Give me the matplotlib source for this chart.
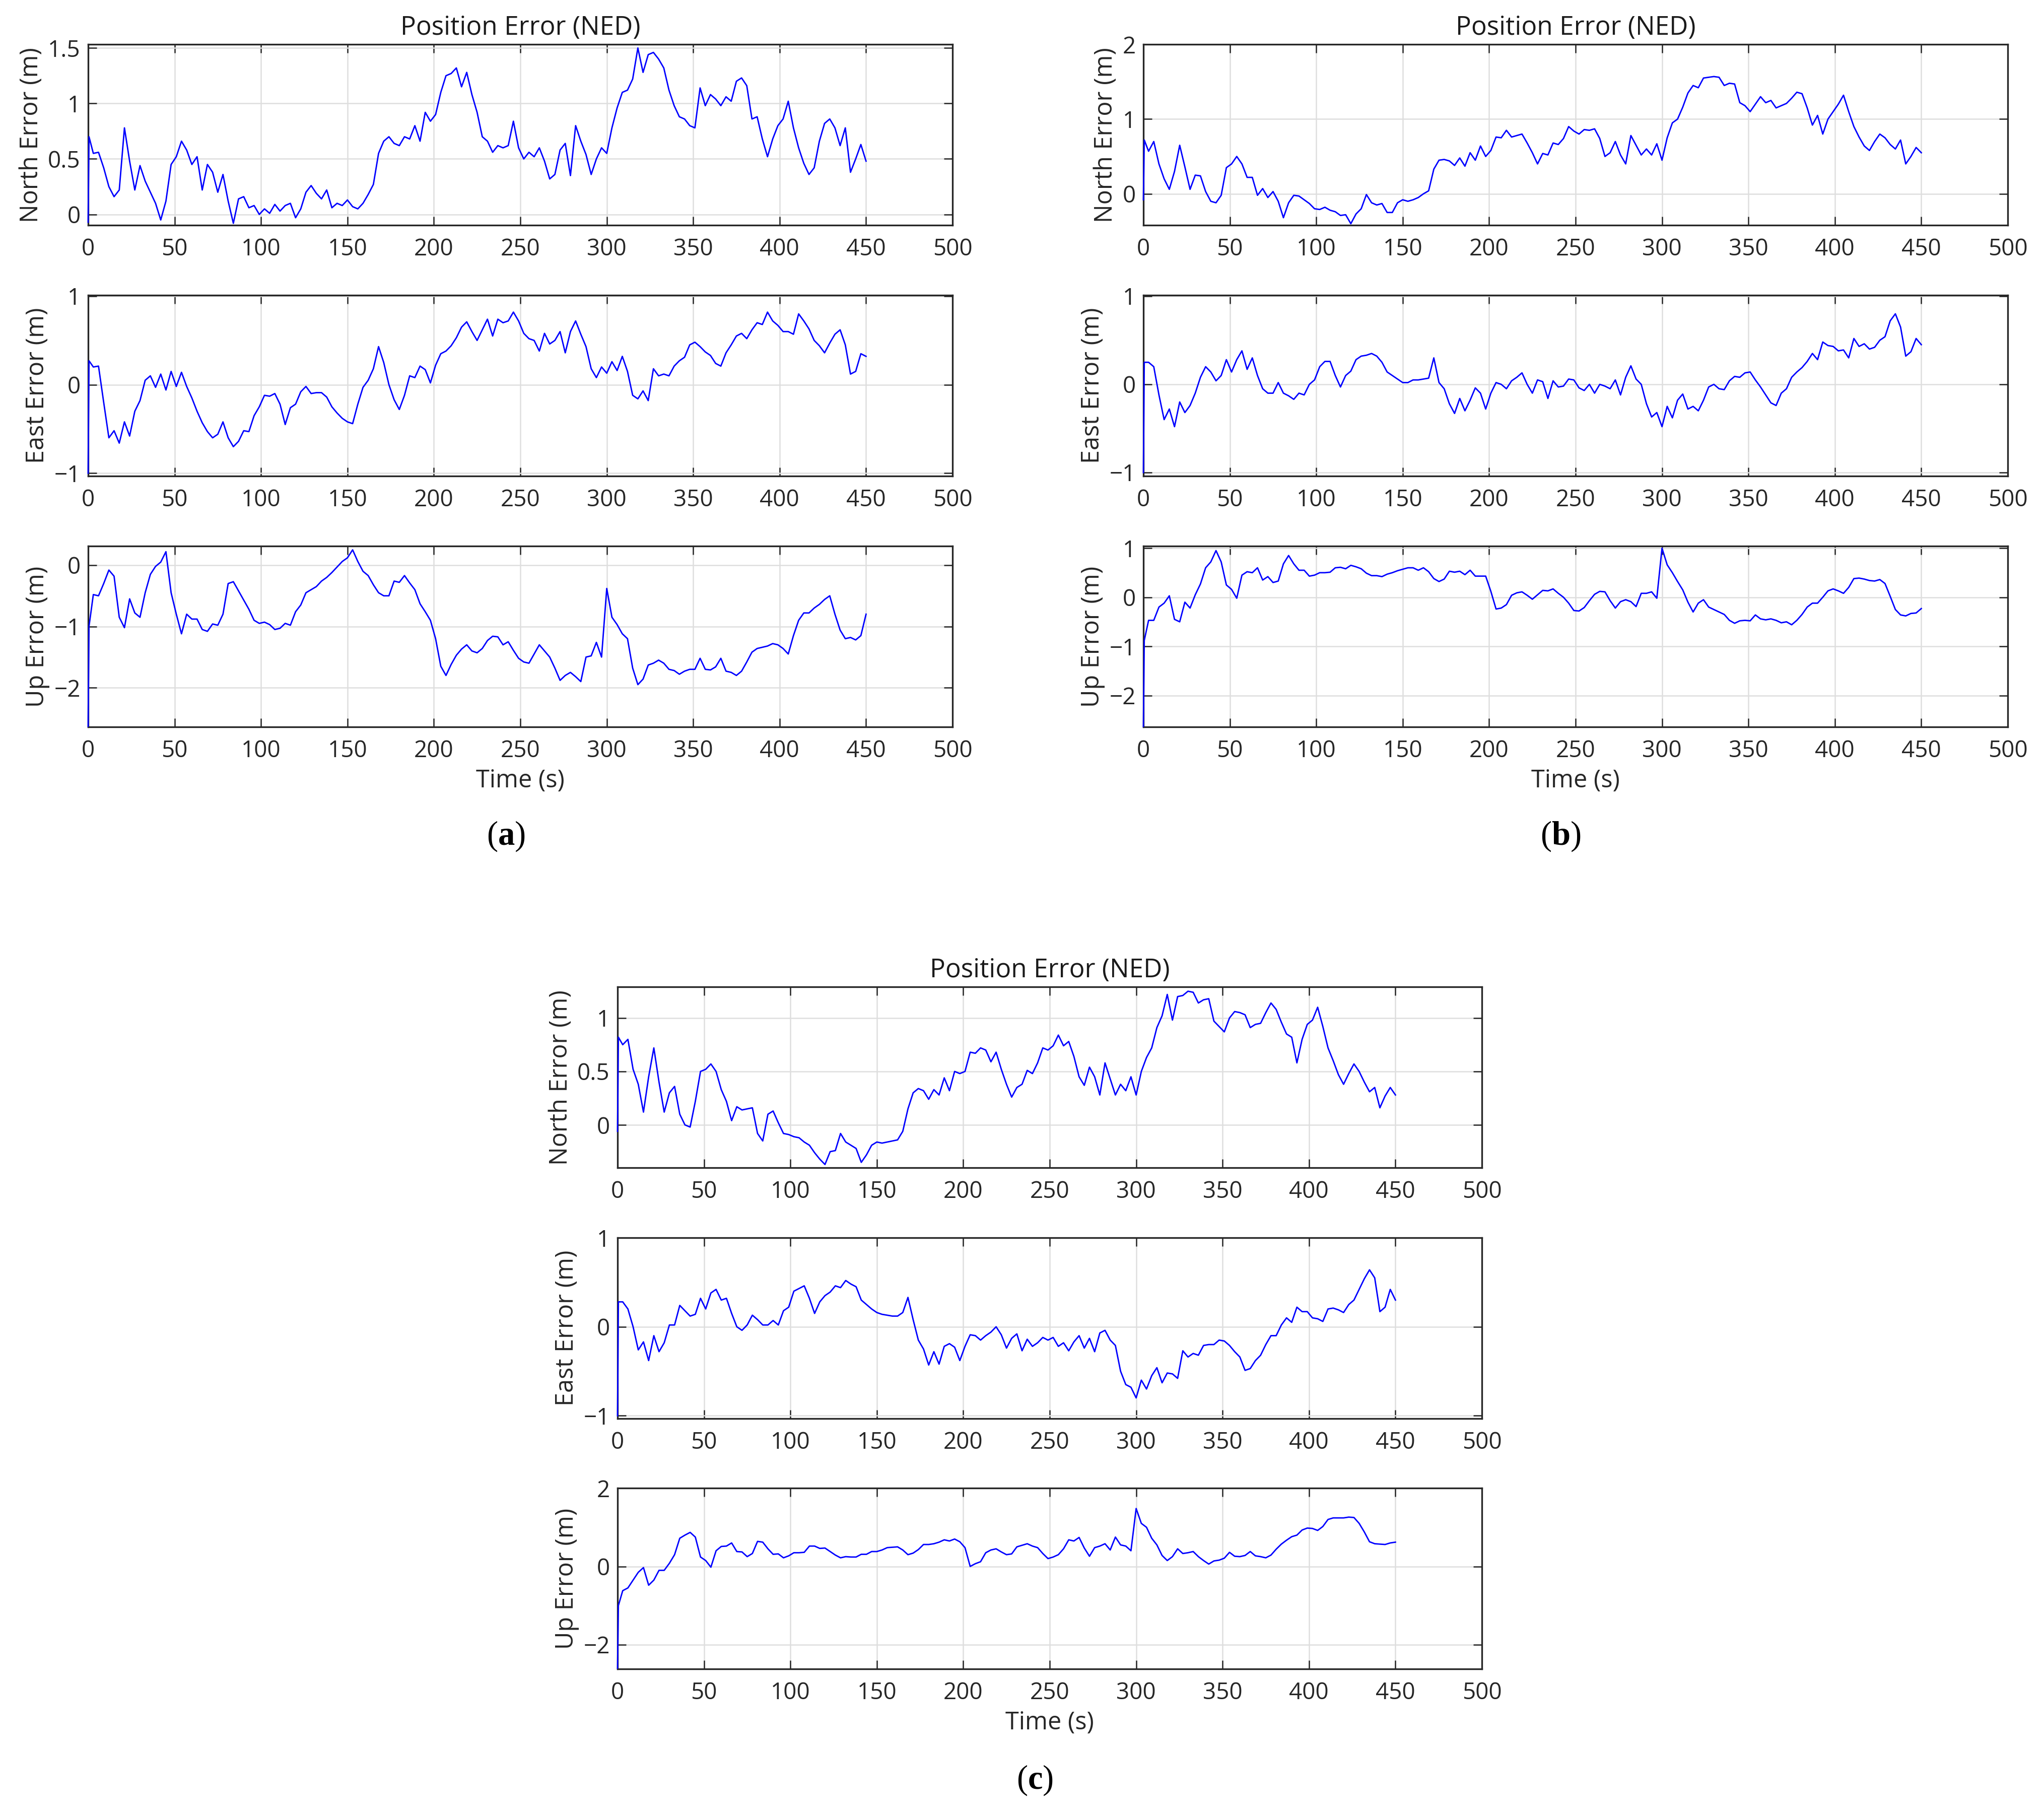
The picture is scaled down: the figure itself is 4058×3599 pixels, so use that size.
import numpy as np
import matplotlib
matplotlib.use("Agg")
import matplotlib.pyplot as plt
from matplotlib.ticker import FuncFormatter

# sample times (s): start of the transient, just after it, then every 3 s
t = np.r_[0.0, 0.5, np.arange(3, 451, 3)]

# ---------------- panel (a) ----------------
north_a = [
    -0.07, 0.70,
    0.55, 0.56, 0.42, 0.25, 0.16, 0.22, 0.78, 0.48, 0.22, 0.44,
    0.30, 0.20, 0.10, -0.05, 0.12, 0.45, 0.52, 0.66, 0.58, 0.45,
    0.52, 0.22, 0.45, 0.38, 0.20, 0.36, 0.12, -0.08, 0.14, 0.16,
    0.06, 0.08, 0.00, 0.05, 0.01, 0.09, 0.03, 0.08, 0.10, -0.03,
    0.05, 0.20, 0.26, 0.19, 0.14, 0.22, 0.06, 0.10, 0.08, 0.13,
    0.07, 0.05, 0.10, 0.18, 0.27, 0.55, 0.66, 0.70, 0.64, 0.62,
    0.70, 0.68, 0.80, 0.66, 0.92, 0.84, 0.90, 1.10, 1.25, 1.27,
    1.32, 1.15, 1.28, 1.08, 0.92, 0.70, 0.66, 0.56, 0.62, 0.60,
    0.62, 0.84, 0.60, 0.50, 0.56, 0.52, 0.60, 0.48, 0.32, 0.36,
    0.58, 0.64, 0.35, 0.80, 0.66, 0.54, 0.36, 0.50, 0.60, 0.55,
    0.78, 0.96, 1.10, 1.12, 1.22, 1.50, 1.28, 1.44, 1.46, 1.40,
    1.32, 1.12, 0.98, 0.88, 0.86, 0.80, 0.78, 1.14, 0.98, 1.08,
    1.04, 0.98, 1.06, 1.02, 1.20, 1.23, 1.16, 0.86, 0.88, 0.68,
    0.52, 0.68, 0.80, 0.86, 1.02, 0.78, 0.60, 0.46, 0.36, 0.42,
    0.66, 0.82, 0.86, 0.78, 0.62, 0.78, 0.38, 0.50, 0.63, 0.48,
]
east_a = [
    -1.00, 0.27,
    0.20, 0.21, -0.20, -0.60, -0.52, -0.66, -0.42, -0.58, -0.30, -0.18,
    0.05, 0.10, -0.03, 0.12, -0.06, 0.15, -0.02, 0.14, -0.02, -0.15,
    -0.30, -0.43, -0.53, -0.60, -0.56, -0.42, -0.60, -0.70, -0.64, -0.52,
    -0.53, -0.35, -0.25, -0.12, -0.13, -0.10, -0.22, -0.45, -0.26, -0.22,
    -0.08, -0.02, -0.10, -0.09, -0.09, -0.14, -0.25, -0.32, -0.38, -0.42,
    -0.44, -0.22, -0.03, 0.05, 0.18, 0.43, 0.25, 0.00, -0.17, -0.28,
    -0.12, 0.10, 0.08, 0.21, 0.17, 0.02, 0.22, 0.35, 0.38, 0.44,
    0.53, 0.65, 0.71, 0.60, 0.50, 0.62, 0.74, 0.55, 0.74, 0.70,
    0.72, 0.82, 0.72, 0.58, 0.52, 0.50, 0.38, 0.58, 0.46, 0.50,
    0.60, 0.36, 0.60, 0.72, 0.57, 0.43, 0.18, 0.08, 0.20, 0.13,
    0.26, 0.16, 0.32, 0.15, -0.12, -0.16, -0.07, -0.18, 0.18, 0.10,
    0.12, 0.10, 0.21, 0.27, 0.31, 0.45, 0.48, 0.43, 0.37, 0.33,
    0.24, 0.21, 0.36, 0.45, 0.55, 0.58, 0.52, 0.62, 0.70, 0.68,
    0.82, 0.72, 0.67, 0.60, 0.60, 0.57, 0.80, 0.72, 0.63, 0.50,
    0.44, 0.36, 0.47, 0.57, 0.62, 0.45, 0.12, 0.15, 0.35, 0.32,
]
up_a = [
    -2.63, -1.00,
    -0.48, -0.50, -0.30, -0.08, -0.18, -0.85, -1.02, -0.55, -0.78, -0.85,
    -0.45, -0.15, -0.02, 0.05, 0.22, -0.45, -0.80, -1.12, -0.80, -0.88,
    -0.88, -1.05, -1.08, -0.96, -0.98, -0.80, -0.30, -0.27, -0.42, -0.57,
    -0.72, -0.90, -0.95, -0.93, -0.97, -1.05, -1.03, -0.95, -0.98, -0.76,
    -0.65, -0.45, -0.40, -0.35, -0.26, -0.20, -0.12, -0.03, 0.06, 0.12,
    0.25, 0.06, -0.10, -0.17, -0.32, -0.45, -0.50, -0.50, -0.26, -0.28,
    -0.17, -0.29, -0.40, -0.63, -0.76, -0.90, -1.20, -1.65, -1.80, -1.62,
    -1.47, -1.37, -1.30, -1.40, -1.43, -1.36, -1.23, -1.16, -1.17, -1.30,
    -1.25, -1.39, -1.52, -1.58, -1.60, -1.45, -1.30, -1.40, -1.50, -1.68,
    -1.88, -1.80, -1.75, -1.82, -1.90, -1.50, -1.48, -1.26, -1.50, -0.38,
    -0.85, -0.97, -1.12, -1.20, -1.68, -1.95, -1.86, -1.63, -1.60, -1.55,
    -1.60, -1.70, -1.72, -1.78, -1.73, -1.70, -1.70, -1.52, -1.70, -1.71,
    -1.66, -1.52, -1.73, -1.75, -1.80, -1.73, -1.58, -1.42, -1.36, -1.34,
    -1.32, -1.28, -1.30, -1.36, -1.45, -1.15, -0.90, -0.78, -0.78, -0.70,
    -0.64, -0.56, -0.50, -0.80, -1.06, -1.20, -1.18, -1.22, -1.15, -0.80,
]

# ---------------- panel (b) ----------------
north_b = [
    -0.08, 0.72,
    0.57, 0.70, 0.40, 0.20, 0.06, 0.30, 0.65, 0.36, 0.06, 0.25,
    0.24, 0.03, -0.10, -0.12, -0.02, 0.35, 0.40, 0.50, 0.40, 0.22,
    0.22, -0.02, 0.07, -0.05, 0.03, -0.10, -0.32, -0.12, -0.02, -0.03,
    -0.08, -0.13, -0.20, -0.21, -0.18, -0.22, -0.24, -0.29, -0.28, -0.40,
    -0.27, -0.20, -0.01, -0.12, -0.15, -0.13, -0.25, -0.25, -0.12, -0.08,
    -0.10, -0.08, -0.05, 0.00, 0.04, 0.33, 0.45, 0.46, 0.44, 0.38,
    0.48, 0.37, 0.55, 0.45, 0.64, 0.50, 0.58, 0.76, 0.75, 0.85,
    0.76, 0.78, 0.80, 0.68, 0.55, 0.40, 0.54, 0.52, 0.68, 0.66,
    0.74, 0.90, 0.84, 0.80, 0.86, 0.85, 0.87, 0.74, 0.50, 0.55,
    0.70, 0.52, 0.40, 0.78, 0.65, 0.52, 0.60, 0.52, 0.67, 0.45,
    0.75, 0.95, 1.00, 1.16, 1.35, 1.45, 1.42, 1.55, 1.56, 1.57,
    1.56, 1.45, 1.48, 1.47, 1.22, 1.18, 1.10, 1.20, 1.30, 1.22,
    1.25, 1.15, 1.18, 1.21, 1.28, 1.36, 1.34, 1.15, 0.92, 1.05,
    0.80, 1.00, 1.10, 1.20, 1.32, 1.10, 0.90, 0.76, 0.64, 0.58,
    0.70, 0.80, 0.75, 0.66, 0.60, 0.72, 0.40, 0.50, 0.62, 0.55,
]
east_b = [
    -1.00, 0.25,
    0.25, 0.20, -0.12, -0.40, -0.28, -0.48, -0.20, -0.32, -0.24, -0.10,
    0.08, 0.20, 0.14, 0.04, 0.10, 0.28, 0.14, 0.28, 0.38, 0.17,
    0.30, 0.10, -0.05, -0.10, -0.10, 0.02, -0.10, -0.13, -0.17, -0.10,
    -0.12, 0.00, 0.05, 0.20, 0.26, 0.26, 0.10, -0.03, 0.10, 0.15,
    0.28, 0.32, 0.33, 0.35, 0.32, 0.25, 0.14, 0.10, 0.06, 0.02,
    0.02, 0.05, 0.05, 0.06, 0.07, 0.30, 0.02, -0.05, -0.22, -0.33,
    -0.16, -0.30, -0.18, -0.04, -0.10, -0.28, -0.10, 0.02, 0.00, -0.05,
    0.04, 0.08, 0.13, 0.00, -0.10, 0.05, 0.03, -0.16, 0.04, -0.03,
    -0.02, 0.06, 0.05, -0.04, -0.07, 0.00, -0.10, 0.00, -0.02, -0.05,
    0.05, -0.12, 0.08, 0.21, 0.06, 0.00, -0.22, -0.37, -0.32, -0.48,
    -0.25, -0.38, -0.18, -0.11, -0.28, -0.25, -0.30, -0.18, -0.03, 0.00,
    -0.05, -0.06, 0.04, 0.09, 0.08, 0.13, 0.14, 0.05, -0.03, -0.12,
    -0.21, -0.24, -0.10, -0.05, 0.08, 0.14, 0.19, 0.26, 0.35, 0.28,
    0.48, 0.44, 0.43, 0.38, 0.39, 0.30, 0.52, 0.43, 0.46, 0.40,
    0.42, 0.50, 0.54, 0.72, 0.80, 0.65, 0.32, 0.37, 0.52, 0.45,
]
up_b = [
    -2.63, -0.88,
    -0.47, -0.47, -0.20, -0.12, 0.03, -0.45, -0.50, -0.10, -0.22, 0.05,
    0.27, 0.60, 0.72, 0.95, 0.72, 0.25, 0.16, -0.02, 0.45, 0.52,
    0.50, 0.60, 0.35, 0.42, 0.30, 0.33, 0.68, 0.85, 0.68, 0.55,
    0.55, 0.43, 0.45, 0.50, 0.50, 0.51, 0.60, 0.61, 0.58, 0.65,
    0.62, 0.58, 0.49, 0.44, 0.44, 0.42, 0.47, 0.50, 0.54, 0.57,
    0.60, 0.60, 0.55, 0.60, 0.52, 0.38, 0.32, 0.37, 0.53, 0.51,
    0.53, 0.46, 0.55, 0.43, 0.43, 0.43, 0.12, -0.24, -0.22, -0.15,
    0.04, 0.09, 0.11, 0.04, -0.04, 0.05, 0.14, 0.13, 0.17, 0.08,
    0.00, -0.12, -0.27, -0.28, -0.21, -0.07, 0.06, 0.12, 0.11, -0.07,
    -0.22, -0.09, -0.05, -0.09, -0.19, 0.08, 0.08, 0.11, -0.02, 1.00,
    0.66, 0.50, 0.32, 0.15, -0.10, -0.30, -0.12, -0.05, -0.20, -0.25,
    -0.30, -0.35, -0.47, -0.53, -0.48, -0.47, -0.48, -0.36, -0.44, -0.46,
    -0.44, -0.47, -0.52, -0.50, -0.56, -0.47, -0.35, -0.20, -0.12, -0.12,
    0.00, 0.13, 0.17, 0.13, 0.08, 0.20, 0.38, 0.39, 0.37, 0.34,
    0.33, 0.36, 0.28, 0.02, -0.25, -0.36, -0.38, -0.33, -0.32, -0.23,
]

# ---------------- panel (c) ----------------
north_c = [
    -0.06, 0.82,
    0.75, 0.80, 0.52, 0.38, 0.12, 0.45, 0.72, 0.40, 0.12, 0.30,
    0.36, 0.10, 0.00, -0.02, 0.22, 0.50, 0.52, 0.57, 0.50, 0.33,
    0.22, 0.04, 0.17, 0.14, 0.15, 0.16, -0.08, -0.15, 0.10, 0.13,
    0.02, -0.08, -0.09, -0.11, -0.12, -0.16, -0.19, -0.26, -0.32, -0.37,
    -0.25, -0.24, -0.08, -0.16, -0.19, -0.22, -0.35, -0.28, -0.19, -0.16,
    -0.17, -0.16, -0.15, -0.14, -0.06, 0.15, 0.30, 0.34, 0.32, 0.24,
    0.33, 0.28, 0.44, 0.32, 0.50, 0.48, 0.50, 0.68, 0.67, 0.72,
    0.70, 0.59, 0.68, 0.52, 0.38, 0.26, 0.35, 0.38, 0.51, 0.48,
    0.58, 0.72, 0.70, 0.74, 0.84, 0.74, 0.78, 0.64, 0.45, 0.37,
    0.54, 0.45, 0.28, 0.58, 0.43, 0.28, 0.38, 0.32, 0.45, 0.28,
    0.50, 0.63, 0.72, 0.91, 1.02, 1.22, 0.98, 1.20, 1.21, 1.25,
    1.24, 1.14, 1.17, 1.18, 0.97, 0.92, 0.87, 1.00, 1.06, 1.05,
    1.03, 0.91, 0.94, 0.95, 1.05, 1.14, 1.08, 0.96, 0.85, 0.82,
    0.58, 0.80, 0.94, 0.98, 1.10, 0.92, 0.72, 0.60, 0.47, 0.38,
    0.48, 0.57, 0.50, 0.40, 0.31, 0.35, 0.16, 0.27, 0.35, 0.28,
]
east_c = [
    -1.00, 0.28,
    0.28, 0.20, 0.00, -0.26, -0.17, -0.38, -0.10, -0.28, -0.18, 0.02,
    0.02, 0.24, 0.18, 0.12, 0.14, 0.32, 0.20, 0.38, 0.42, 0.30,
    0.32, 0.15, 0.00, -0.04, 0.02, 0.13, 0.08, 0.02, 0.02, 0.07,
    0.02, 0.18, 0.22, 0.40, 0.43, 0.46, 0.32, 0.15, 0.28, 0.35,
    0.39, 0.46, 0.44, 0.52, 0.48, 0.45, 0.30, 0.25, 0.20, 0.16,
    0.14, 0.13, 0.12, 0.12, 0.16, 0.33, 0.08, -0.15, -0.25, -0.43,
    -0.28, -0.42, -0.22, -0.19, -0.23, -0.38, -0.22, -0.09, -0.10, -0.15,
    -0.10, -0.06, 0.00, -0.09, -0.24, -0.13, -0.08, -0.27, -0.14, -0.22,
    -0.18, -0.12, -0.15, -0.12, -0.22, -0.18, -0.27, -0.17, -0.10, -0.24,
    -0.13, -0.28, -0.07, -0.04, -0.15, -0.21, -0.50, -0.65, -0.68, -0.80,
    -0.60, -0.70, -0.55, -0.46, -0.63, -0.52, -0.53, -0.58, -0.27, -0.34,
    -0.30, -0.32, -0.21, -0.20, -0.20, -0.15, -0.16, -0.21, -0.28, -0.34,
    -0.49, -0.47, -0.38, -0.32, -0.20, -0.10, -0.10, 0.02, 0.10, 0.05,
    0.22, 0.17, 0.17, 0.10, 0.09, 0.06, 0.20, 0.21, 0.19, 0.16,
    0.25, 0.30, 0.42, 0.54, 0.64, 0.55, 0.17, 0.22, 0.42, 0.30,
]
up_c = [
    -2.60, -1.00,
    -0.62, -0.55, -0.35, -0.15, -0.03, -0.48, -0.35, -0.10, -0.10, 0.08,
    0.30, 0.72, 0.80, 0.87, 0.75, 0.24, 0.15, -0.02, 0.40, 0.51,
    0.52, 0.60, 0.38, 0.37, 0.25, 0.33, 0.64, 0.62, 0.45, 0.31,
    0.32, 0.22, 0.27, 0.35, 0.35, 0.36, 0.52, 0.52, 0.46, 0.47,
    0.38, 0.29, 0.22, 0.25, 0.24, 0.24, 0.31, 0.31, 0.38, 0.38,
    0.42, 0.48, 0.49, 0.50, 0.42, 0.30, 0.34, 0.43, 0.56, 0.56,
    0.58, 0.62, 0.68, 0.65, 0.70, 0.63, 0.48, 0.00, 0.07, 0.12,
    0.35, 0.42, 0.45, 0.37, 0.30, 0.32, 0.50, 0.54, 0.58, 0.52,
    0.48, 0.33, 0.20, 0.24, 0.30, 0.45, 0.68, 0.65, 0.74, 0.47,
    0.26, 0.48, 0.52, 0.58, 0.42, 0.75, 0.55, 0.52, 0.40, 1.48,
    1.10, 1.00, 0.72, 0.55, 0.28, 0.15, 0.25, 0.45, 0.33, 0.35,
    0.38, 0.25, 0.15, 0.06, 0.14, 0.16, 0.21, 0.36, 0.26, 0.25,
    0.28, 0.38, 0.27, 0.25, 0.22, 0.29, 0.44, 0.57, 0.67, 0.76,
    0.80, 0.93, 0.98, 0.97, 0.92, 1.02, 1.20, 1.24, 1.24, 1.24,
    1.26, 1.25, 1.10, 0.88, 0.63, 0.58, 0.57, 0.56, 0.60, 0.62,
]

labels = ["North Error (m)", "East Error (m)", "Up Error (m)"]
xticks = [0, 50, 100, 150, 200, 250, 300, 350, 400, 450, 500]

ylims_a = [(-0.097, 1.532), (-1.032, 1.01), (-2.64, 0.31)]
ylims_b = [(-0.42, 2.0), (-1.04, 1.01), (-2.64, 1.04)]
ylims_c = [(-0.40, 1.29), (-1.032, 1.0), (-2.62, 2.0)]
yticks_a = [[0, 0.5, 1, 1.5], [-1, 0, 1], [-2, -1, 0]]
yticks_b = [[0, 1, 2], [-1, 0, 1], [-2, -1, 0, 1]]
yticks_c = [[0, 0.5, 1], [-1, 0, 1], [-2, 0, 2]]

plt.rcParams['font.family'] = ['Open Sans', 'DejaVu Sans']
plt.rcParams['mathtext.fontset'] = 'custom'
plt.rcParams['mathtext.bf'] = 'Liberation Serif:bold'
plt.rcParams['mathtext.rm'] = 'Liberation Serif'

EDGE = '#262626'


def tick_fmt(v, pos):
    return f"{v:g}".replace("-", "\u2212")


def draw_column(fig, left, bottoms, height, series, ylims, yticks):
    width = 0.42287
    axes = []
    for i, (y, lim, tk) in enumerate(zip(series, ylims, yticks)):
        ax = fig.add_axes([left, bottoms[i], width, height])
        # line sits on top of the frame, like the exported MATLAB figure
        ax.plot(t[:len(y)], y, color='#0000ff', lw=2.0, zorder=3,
                clip_on=False)
        ax.set_xlim(0, 500)
        ax.set_ylim(*lim)
        ax.set_xticks(xticks)
        ax.set_yticks(tk)
        ax.yaxis.set_major_formatter(FuncFormatter(tick_fmt))
        ax.grid(True, color='#dedede', lw=1.8)
        ax.set_axisbelow(True)
        for s in ax.spines.values():
            s.set_color(EDGE)
            s.set_linewidth(2.4)
        ax.tick_params(direction='in', length=12, width=1.8, color=EDGE,
                       top=True, right=True, labelsize=33,
                       labelcolor='#262626')
        ax.tick_params(axis='x', pad=18)
        ax.tick_params(axis='y', pad=11)
        ax.set_ylabel(labels[i], fontsize=35, labelpad=6, color='#262626')
        axes.append(ax)
    axes[0].set_title("Position Error (NED)", fontsize=37, pad=14,
                      color='#1a1a1a')
    axes[-1].set_xlabel("Time (s)", fontsize=35, labelpad=8, color='#262626')
    return axes


def main():
    fig = plt.figure(figsize=(40.58, 35.99), dpi=100)

    top_rows = [0.87580, 0.73743, 0.59905]
    low_rows = [0.35593, 0.21756, 0.07947]

    draw_column(fig, 0.04312, top_rows, 0.0997,
                [north_a, east_a, up_a], ylims_a, yticks_a)
    draw_column(fig, 0.55939, top_rows, 0.0997,
                [north_b, east_b, up_b], ylims_b, yticks_b)
    draw_column(fig, 0.30212, low_rows, 0.0997,
                [north_c, east_c, up_c], ylims_c, yticks_c)

    # sub-figure letters
    for x, y, letter in [(0.2474, 0.5388, 'a'), (0.7634, 0.5388, 'b'),
                         (0.5063, 0.0181, 'c')]:
        fig.text(x, y, r"($\mathbf{" + letter + r"}$)", fontsize=48,
                 family='Liberation Serif', ha='center', va='center')

    fig.savefig("out.png", dpi=100, facecolor='white')


if __name__ == "__main__":
    main()
